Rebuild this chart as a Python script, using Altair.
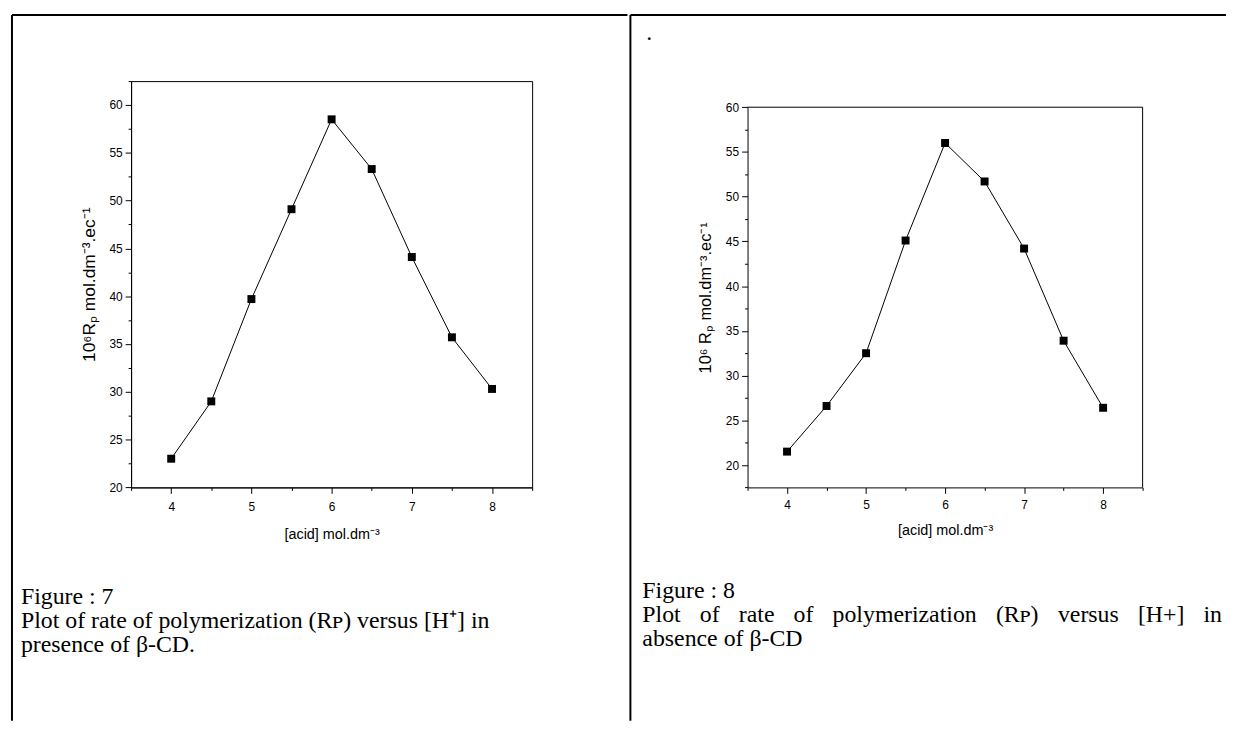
import altair as alt
import pandas as pd

# ---- data ----
acid = [4, 4.5, 5, 5.5, 6, 6.5, 7, 7.5, 8]
rp_with_cd = [23.0, 29.0, 39.7, 49.1, 58.5, 53.3, 44.1, 35.7, 30.3]      # Figure 7
rp_without_cd = [21.5, 26.6, 32.5, 45.1, 56.0, 51.7, 44.2, 33.9, 26.4]   # Figure 8

x_ticks = [3.5, 4, 4.5, 5, 5.5, 6, 6.5, 7, 7.5, 8, 8.5]
y_ticks_left = [20 + 2.5 * i for i in range(18)]      # 20 .. 62.5
y_ticks_right = [17.5 + 2.5 * i for i in range(18)]   # 17.5 .. 60

x_title = "[acid] mol.dm\u207b\u00b3"
y_title_left = "10\u2076R\u209a mol.dm\u207b\u00b3.ec\u207b\u00b9"
y_title_right = "10\u2076 R\u209a mol.dm\u207b\u00b3.ec\u207b\u00b9"

cap7 = ["Figure : 7",
        "Plot of rate of polymerization (R\u1d18) versus [H\u207a] in",
        "presence of \u03b2-CD."]
cap8_head = "Figure : 8"
cap8_words = ["Plot", "of", "rate", "of", "polymerization", "(R\u1d18)", "versus", "[H+]", "in"]
cap8_last = "absence of \u03b2-CD"

SERIF = "Liberation Serif"
SANS = "Liberation Sans"
CAP_SIZE = 24
ONE = pd.DataFrame({"a": [0]})


def xaxis(label_pad, title_pad):
    return alt.Axis(values=x_ticks, title=x_title,
                    labelExpr="datum.value % 1 === 0 ? format(datum.value, 'd') : ''",
                    tickSize={"condition": {"test": "datum.value % 1 === 0", "value": 6}, "value": 3},
                    grid=False, labelOverlap=False, labelFlush=False, labelPadding=label_pad,
                    titlePadding=title_pad, titleFontSize=14.5)


def yaxis(ticks, title, title_pad, title_size):
    return alt.Axis(values=ticks, title=title,
                    labelExpr="datum.value % 5 === 0 ? format(datum.value, 'd') : ''",
                    tickSize={"condition": {"test": "datum.value % 5 === 0", "value": 6}, "value": 3},
                    grid=False, labelOverlap=False, labelFlush=False, labelPadding=3,
                    titlePadding=title_pad, titleFontSize=title_size)


def rule(x=None, x2=None, y=None, y2=None, width=2):
    enc = {}
    if x is not None:
        enc["x"] = alt.value(x)
    if x2 is not None:
        enc["x2"] = alt.value(x2)
    if y is not None:
        enc["y"] = alt.value(y)
    if y2 is not None:
        enc["y2"] = alt.value(y2)
    return alt.Chart(ONE).mark_rule(color="black", strokeWidth=width).encode(**enc)


def text(s, x, y, size=CAP_SIZE, font=SERIF):
    return alt.Chart(ONE).mark_text(align="left", baseline="alphabetic", font=font,
                                    fontSize=size, color="black").encode(
        x=alt.value(x), y=alt.value(y), text=alt.value(s))


def series(values, yscale, yticks, ytitle, lpad, tpad, ytpad, ytsize):
    df = pd.DataFrame({"acid": acid, "rp": values})
    base = alt.Chart(df).encode(
        x=alt.X("acid:Q", scale=alt.Scale(domain=[3.5, 8.5], nice=False, zero=False),
                axis=xaxis(lpad, tpad)),
        y=alt.Y("rp:Q", scale=yscale, axis=yaxis(yticks, ytitle, ytpad, ytsize)),
    )
    line = base.mark_line(color="black", strokeWidth=1)
    pts = base.mark_point(shape="square", filled=True, color="black", size=64, opacity=1)
    return line + pts


# Both views share the same top (page y 77.7); the right plot's frame starts lower.
TOP = 77.7
BOTTOM = 487

# ---- left panel (plot area origin at page (131, 77.7)) ----
LX = 131
LW = 404
left_layers = [
    rule(x=11 - LX, y=11 - TOP, y2=722 - TOP),            # left page border
    rule(x=11 - LX, x2=631 - LX, y=11 - TOP),             # top page border
    text(cap7[0], 20 - LX, 604 - TOP),
    text(cap7[1], 20 - LX, 628.5 - TOP),
    text(cap7[2], 20 - LX, 653 - TOP),
    series(rp_with_cd, alt.Scale(domain=[20, 62.5], nice=False, zero=False),
           y_ticks_left, y_title_left, 8, 15, 11, 17.5),
]
left = alt.layer(*left_layers).properties(width=LW, height=BOTTOM - TOP)

# ---- right panel (view origin at page (751, 77.7), frame from page y 104) ----
RX = 751
RW = 398
RT = 104 - TOP          # frame top inside the view
RH = BOTTOM - TOP
# approximate Times widths (em) for the justified caption line
word_em = [1.612, 0.833, 1.499, 0.833, 6.056, 1.8, 2.555, 1.952, 0.778]
line_left, line_right = 645, 1229
gap = (line_right - line_left - sum(word_em) * CAP_SIZE) / (len(cap8_words) - 1)
right_layers = [
    rule(x=633 - RX, y=11 - TOP, y2=722 - TOP),           # middle border
    rule(x=633 - RX, x2=1233 - RX, y=11 - TOP),           # top page border
    rule(x=0, x2=RW, y=RT, width=1),                      # plot frame top
    rule(x=RW, y=RT, y2=RH, width=1),                     # plot frame right
    text(".", 649 - RX, 36 - TOP),
    text(cap8_head, 645 - RX, 598 - TOP),
    text(cap8_last, 645 - RX, 647 - TOP),
]
pos = line_left
for w, em in zip(cap8_words, word_em):
    right_layers.append(text(w, pos - RX, 622.5 - TOP))
    pos += em * CAP_SIZE + gap
right_layers.append(series(rp_without_cd,
                           alt.Scale(domain=[17.5, 60], range=[RH, RT], nice=False, zero=False),
                           y_ticks_right, y_title_right, 6, 13, 12, 16.5))
right = alt.layer(*right_layers).properties(width=RW, height=RH,
                                            view=alt.ViewBackground(stroke=None))

chart = alt.hconcat(left, right, spacing=0).properties(
    padding={"left": 2, "top": 2, "right": 0, "bottom": 0},
    background="white",
).configure_view(stroke="black", strokeWidth=1).configure_axis(
    domainColor="black", domainWidth=1, tickColor="black", tickWidth=1,
    labelColor="black", labelFont=SANS, labelFontSize=12,
    titleColor="black", titleFont=SANS, titleFontWeight="normal",
)

chart.save("out.html", embed_options={"renderer": "svg", "actions": False})
